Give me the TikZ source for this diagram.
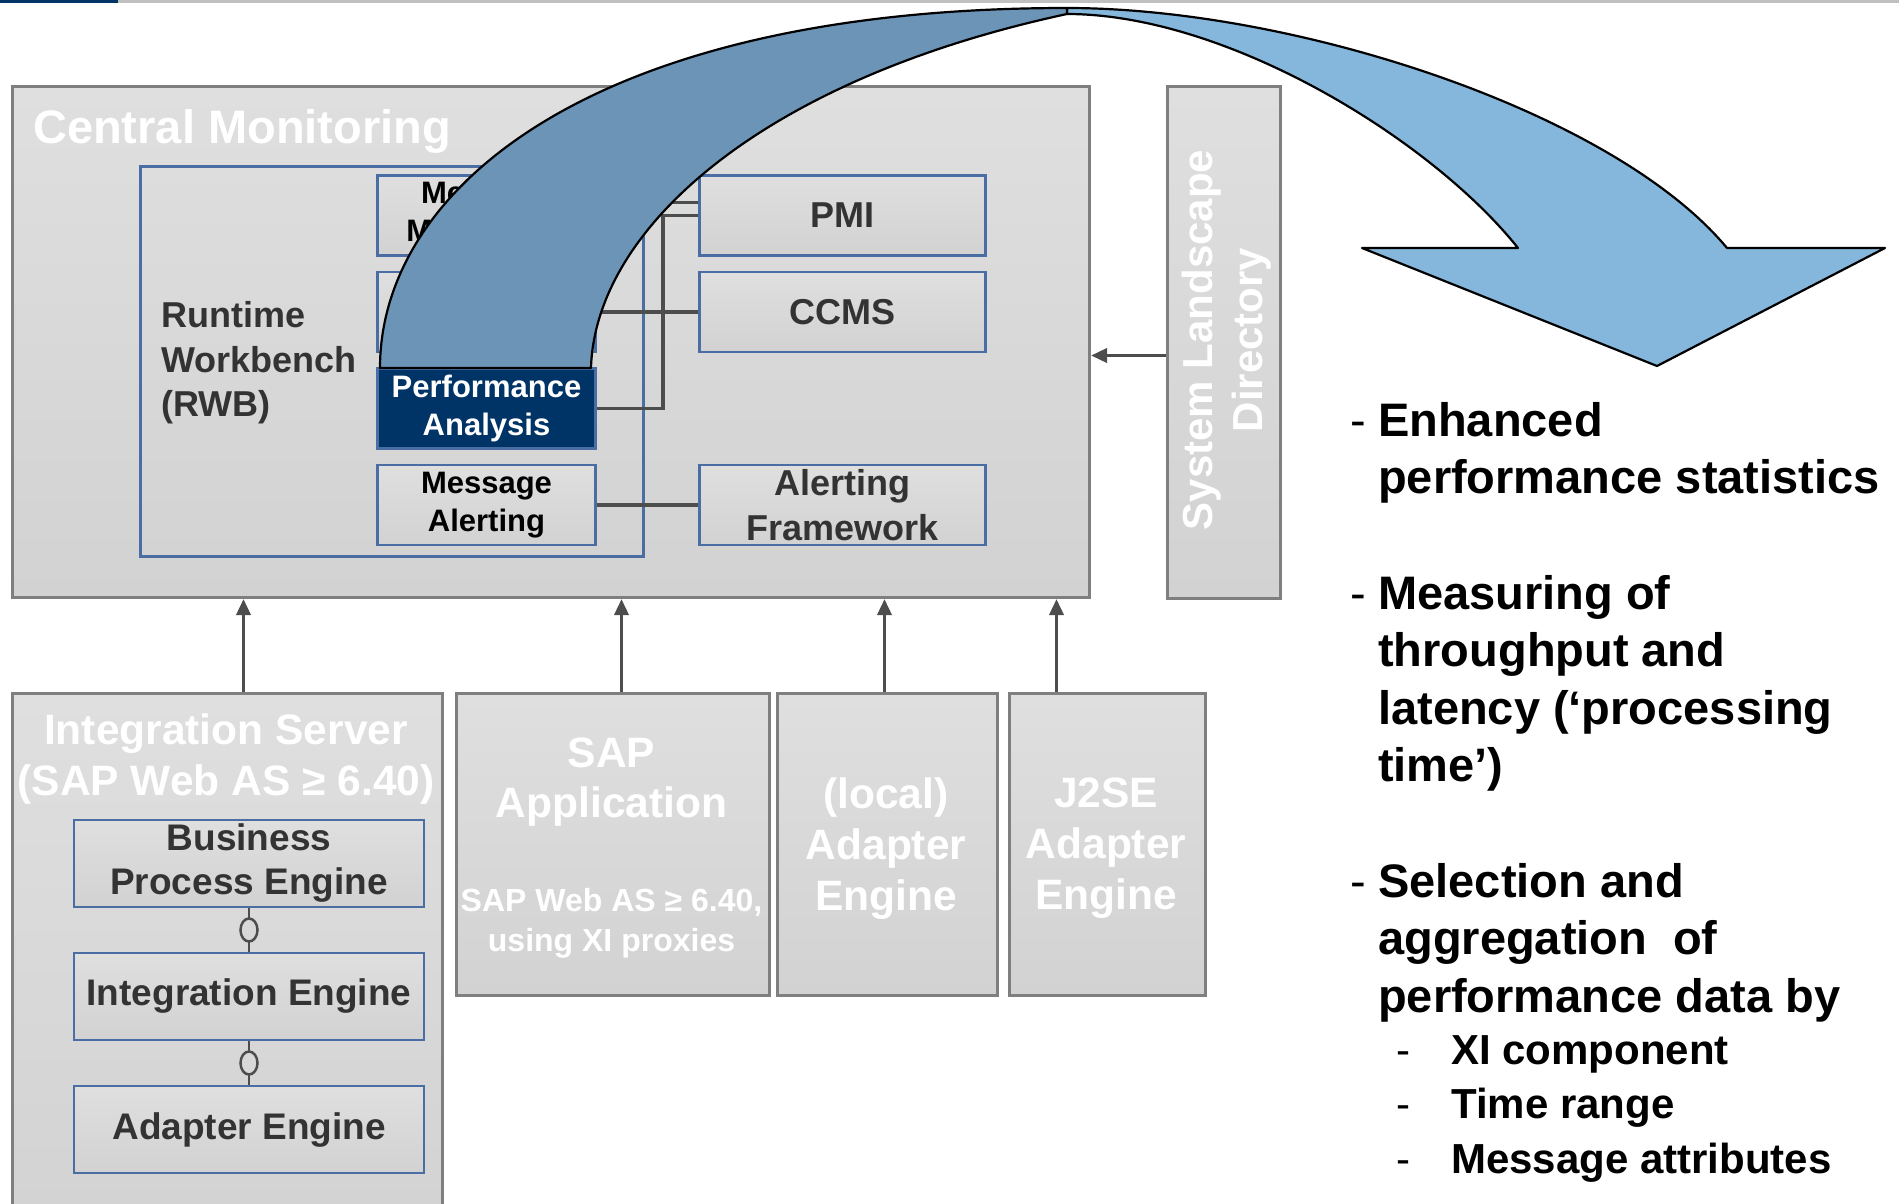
\documentclass[tikz,border=0pt]{standalone}
\usepackage{fontspec}
\setmainfont{Liberation Sans}
\usetikzlibrary{positioning,shapes.geometric,arrows.meta}

\definecolor{boxline}{HTML}{7F7F7F}
\definecolor{boxtop}{HTML}{DFDFDF}
\definecolor{boxbot}{HTML}{D2D2D2}
\definecolor{boxmid}{HTML}{D8D8D8}
\definecolor{rwbblue}{HTML}{4A6EA4}
\definecolor{navy}{HTML}{003366}
\definecolor{linkgray}{HTML}{4D4D4D}
\definecolor{txtdark}{HTML}{333333}
\definecolor{arrowdark}{HTML}{6B94B7}
\definecolor{arrowlight}{HTML}{85B6DB}
\definecolor{rulegray}{HTML}{C0C0C0}

\newcommand{\bfsize}[2]{\fontsize{#1}{#2}\selectfont\bfseries}
\newcommand{\itemdash}{\makebox[28pt][l]{\mdseries -}}
\newcommand{\itemgap}{\hspace*{28pt}}
\newcommand{\subdash}{\hspace*{46pt}\makebox[55pt][l]{\mdseries -}}

\tikzset{
  areabox/.style={draw=boxline, line width=3pt, top color=boxtop, bottom color=boxbot,
    inner sep=0pt, anchor=north west},
  partbox/.style={draw=rwbblue, line width=2.5pt, top color=boxtop, bottom color=boxbot,
    minimum width=218pt, minimum height=80pt, inner sep=0pt, align=center,
    font=\bfsize{31}{38}},
  sidebox/.style={partbox, minimum width=286pt, text=txtdark, font=\bfsize{36}{45}},
  enginebox/.style={partbox, minimum width=350pt, minimum height=87pt, text=txtdark,
    font=\bfsize{37}{44}},
  whitetext/.style={text=white, inner sep=0pt, align=center},
  notetext/.style={align=left, inner sep=0pt, anchor=north west},
  linkline/.style={draw=linkgray, line width=3.5pt},
  feedarrow/.style={linkline, -{Triangle[length=16pt,width=14pt]}},
  jointline/.style={draw=linkgray, line width=2.5pt},
  lolli/.style={ellipse, draw=linkgray, line width=2.5pt, fill=boxmid,
    minimum width=17pt, minimum height=23pt, inner sep=0pt},
  ribbon/.style={draw=black, line width=2.2pt, line join=round}
}

\begin{document}
\begin{tikzpicture}[x=1pt,y=-1pt]
\useasboundingbox (0,0) rectangle (1899,1203);
\fill[navy] (0,0) rectangle (118,2.5);
\fill[rulegray] (118,0) rectangle (1899,2.5);

% central monitoring
\node[areabox, minimum width=1077pt, minimum height=511pt] (cm) at (11,85) {};
\node[whitetext, anchor=base west, font=\bfsize{47}{56}] (cmtitle) at (33,143) {Central Monitoring};
\node[draw=rwbblue, line width=2.5pt, minimum width=503pt, minimum height=390pt, anchor=north west] (rwb) at (139,165) {};
\node[align=left, inner sep=0pt, anchor=west, text=txtdark, font=\bfsize{36}{44.5}] (rwbtitle) at (161,363) {Runtime\\Workbench\\(RWB)};

\node[partbox] (mon) at (486.5,215.5) {Message\\Monitoring};
\node[partbox, below=14pt of mon] (comp) {};
\node[partbox, below=14pt of comp, top color=navy, bottom color=navy, text=white] (pa) {Performance\\Analysis};
\node[partbox, below=14pt of pa] (ma) {Message\\Alerting};

\node[sidebox, right=101.5pt of mon] (pmi) {PMI};
\node[sidebox, right=101.5pt of comp] (ccms) {CCMS};
\node[sidebox, right=101.5pt of ma] (af) {Alerting\\Framework};

\draw[linkline] ([yshift=13pt]mon.east) -- ([yshift=13pt]mon.east -| pmi.west);
\draw[linkline] (pa.east) -- ++(66,0) |- (pmi.west);
\draw[linkline] (comp) -- (ccms);
\draw[linkline] (ma) -- (af);

% sending systems
\node[areabox, minimum width=430pt, minimum height=560pt] (is) at (11,692) {};
\node[whitetext, anchor=north, font=\bfsize{42.5}{51.5}] (istitle) at (226,713) {Integration Server\\(SAP Web AS ≥ 6.40)};
\node[enginebox] (bpe) at (249,863.5) {Business\\Process Engine};
\node[enginebox, below=43.5pt of bpe] (ie) {Integration Engine};
\node[enginebox, below=43.5pt of ie] (ae) {Adapter Engine};
\draw[jointline] (bpe) -- node[lolli] {} (ie);
\draw[jointline] (ie) -- node[lolli] {} (ae);

\node[areabox, minimum width=313pt, minimum height=302pt] (sapapp) at (455,692) {};
\node[whitetext, anchor=north, font=\bfsize{42.5}{50}] (saptitle) at (611.5,738) {SAP\\Application};
\node[whitetext, anchor=north, font=\bfsize{32}{39.5}] (sapnote) at (611.5,888.5) {SAP Web AS ≥ 6.40,\\using XI proxies};

\node[areabox, minimum width=220pt, minimum height=302pt] (local) at (776,692) {};
\node[whitetext, anchor=north, font=\bfsize{42.5}{51}] (localtitle) at (886,777) {(local)\\Adapter\\Engine};
\node[areabox, minimum width=196pt, minimum height=302pt] (j2se) at (1008,692) {};
\node[whitetext, anchor=north, font=\bfsize{42.5}{51}] (j2setitle) at (1106,778) {J2SE\\Adapter\\Engine};

\node[areabox, minimum width=113pt, minimum height=512pt] (sld) at (1166,85) {};
\node[whitetext, rotate=90, font=\bfsize{42}{50}] (sldtitle) at (1227,340) {System Landscape\\Directory};

\draw[feedarrow] ([xshift=16pt]is.north) -- ([xshift=16pt]is.north |- cm.south);
\draw[feedarrow] ([xshift=8.5pt]sapapp.north) -- ([xshift=8.5pt]sapapp.north |- cm.south);
\draw[feedarrow] ([xshift=-3pt]local.north) -- ([xshift=-3pt]local.north |- cm.south);
\draw[feedarrow] ([xshift=-51pt]j2se.north) -- ([xshift=-51pt]j2se.north |- cm.south);
\draw[feedarrow] ([yshift=-13pt]sld.west) -- ([yshift=-13pt]sld.west -| cm.east);

% curved arrow out of performance analysis
\draw[ribbon, fill=arrowlight] (1067,8) .. controls (1295,8) and (1614,112) .. (1727,248)
  -- (1885,248) -- (1657,366) -- (1362,248) -- (1518,248)
  .. controls (1431,139) and (1227,14) .. (1067,14) -- cycle;
\draw[ribbon, fill=arrowdark] (380,368) .. controls (380,190) and (590,8) .. (1067,8)
  -- (1067,14) .. controls (760,80) and (595,230) .. (591,368) -- cycle;

% feature list
\node[notetext, font=\bfsize{47}{57.5}] (enhanced) at (1350,402) {\itemdash Enhanced\\\itemgap performance statistics};
\node[notetext, font=\bfsize{47}{57.5}] (measuring) at (1350,575) {\itemdash Measuring of\\\itemgap throughput and\\\itemgap latency (‘processing\\\itemgap time’)};
\node[notetext, font=\bfsize{47}{57.5}] (selection) at (1350,863) {\itemdash Selection and\\\itemgap aggregation\ \ of\\\itemgap performance data by};
\node[notetext, font=\bfsize{42}{54.5}] (criteria) at (1350,1035) {\subdash XI component\\\subdash Time range\\\subdash Message attributes};
\end{tikzpicture}
\end{document}
